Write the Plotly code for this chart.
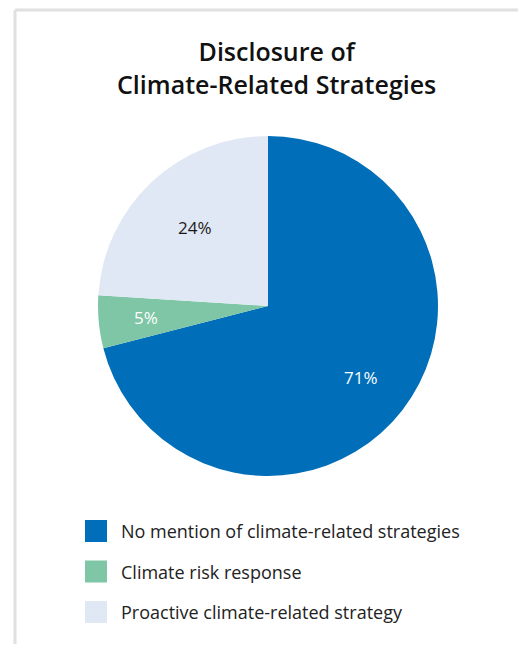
import math
import plotly.graph_objects as go

categories = ["No mention of climate-related strategies", "Climate risk response", "Proactive climate-related strategy"]
values = [71, 5, 24]
colors = ["#006EB8", "#7EC6A5", "#E1E8F5"]
label_colors = ["#FFFFFF", "#FFFFFF", "#1A1A1A"]
label_radius = [0.69, 0.72, 0.63]  # fraction of pie radius for each slice label

# figure size chosen so the page (8px body margin) fits the 526x652 window
W, H = 518, 636
FONT = "Open Sans"

# pie geometry in figure pixels
CX, CY, R = 260, 298, 170

fig = go.Figure()
fig.add_trace(go.Pie(
    labels=categories,
    values=values,
    sort=False,
    direction="clockwise",
    rotation=0,
    marker=dict(colors=colors, line=dict(width=0)),
    textinfo="none",
    hoverinfo="label+percent",
    showlegend=False,
    domain=dict(x=[(CX - R) / W, (CX + R) / W], y=[1 - (CY + R) / H, 1 - (CY - R) / H]),
))

shapes = [
    dict(type="line", xref="paper", yref="paper", x0=7 / W, x1=1, y0=1 - 2 / H, y1=1 - 2 / H,
         line=dict(color="#E0E0E0", width=3)),
    dict(type="line", xref="paper", yref="paper", x0=7 / W, x1=7 / W, y0=0, y1=1 - 2 / H,
         line=dict(color="#E0E0E0", width=3)),
]
annotations = [
    dict(text="Disclosure of<br>Climate-Related Strategies", xref="paper", yref="paper",
         x=268 / W, y=1 - 59 / H, xanchor="center", yanchor="middle", showarrow=False,
         font=dict(family=FONT, size=25, color="#111111", weight=600), align="center"),
]

# slice labels at the middle angle of each slice
total = sum(values)
cum = 0
for v, lc, fr in zip(values, label_colors, label_radius):
    mid = (cum + v / 2) / total * 2 * math.pi
    cum += v
    rr = fr * R
    lx = CX + rr * math.sin(mid)
    ly = CY - rr * math.cos(mid)
    annotations.append(dict(text=f"{v}%", xref="paper", yref="paper", x=lx / W, y=1 - ly / H,
                            xanchor="center", yanchor="middle", showarrow=False,
                            font=dict(family=FONT, size=17, color=lc)))

# custom legend
for i, (name, col) in enumerate(zip(categories, colors)):
    cy = 523 + i * 40.5
    shapes.append(dict(type="rect", xref="paper", yref="paper",
                       x0=77 / W, x1=99 / W, y0=1 - (cy + 11) / H, y1=1 - (cy - 11) / H,
                       fillcolor=col, line=dict(width=0)))
    annotations.append(dict(text=name, xref="paper", yref="paper", x=111 / W, y=1 - cy / H,
                            xanchor="left", yanchor="middle", showarrow=False,
                            font=dict(family=FONT, size=18, color="#222222")))

fig.update_layout(
    width=W, height=H,
    margin=dict(l=0, r=0, t=0, b=0),
    paper_bgcolor="#FFFFFF",
    plot_bgcolor="#FFFFFF",
    shapes=shapes,
    annotations=annotations,
)

fig.write_html("out.html")
